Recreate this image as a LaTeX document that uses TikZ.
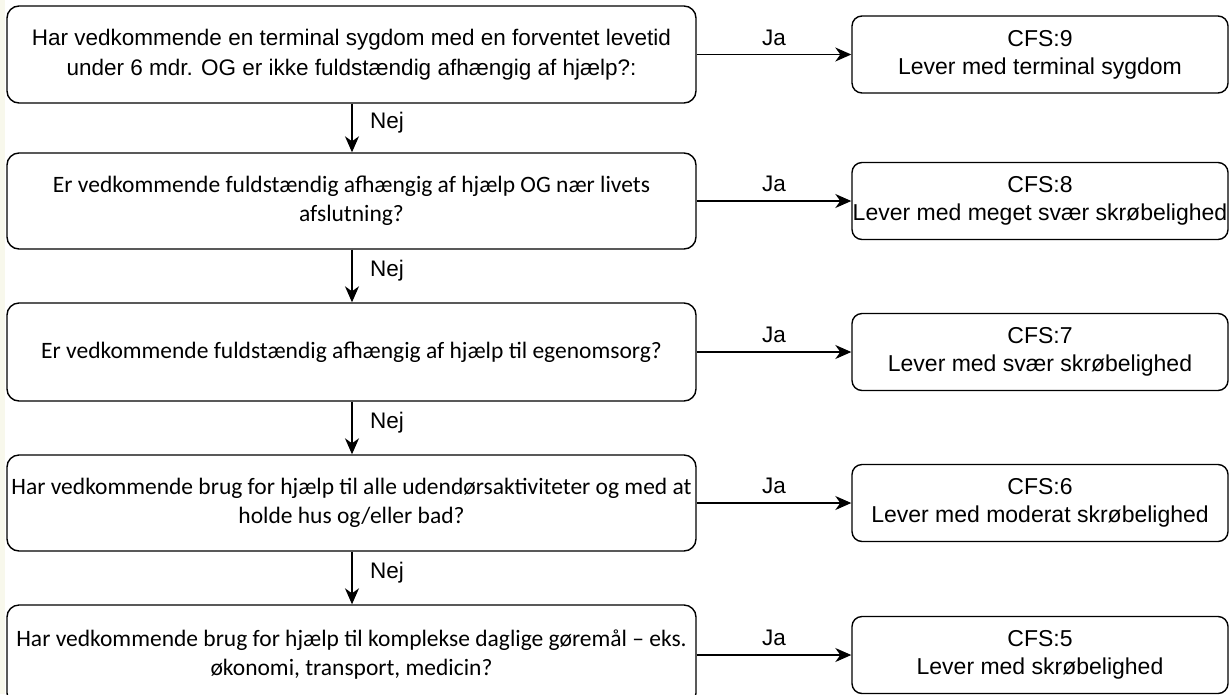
\documentclass[tikz,border=0pt]{standalone}
\usepackage{fontspec}
\usetikzlibrary{arrows.meta}
\newfontfamily\arialf{Liberation Sans}
\newfontfamily\calibf{Carlito}
\definecolor{cream}{HTML}{F8F8EC}
\tikzset{
  qbox/.style={draw, line width=1.4pt, rounded corners=12pt, minimum width=689pt, inner sep=0pt, align=center},
  rbox/.style={draw, line width=1.4pt, rounded corners=10pt, minimum width=376pt, minimum height=77pt, inner sep=0pt, align=center, font=\arialf\fontsize{23}{28}\selectfont},
  arr/.style={line width=1.4pt, -{Stealth[length=16pt,width=14pt,inset=5pt]}},
  jalab/.style={font=\arialf\fontsize{22.5}{26}\selectfont, midway, yshift=17pt},
  nejlab/.style={font=\arialf\fontsize{22.5}{26}\selectfont, midway, anchor=west, xshift=14pt, yshift=5pt},
  qarial/.style={font=\arialf\fontsize{22.5}{30}\selectfont},
  qcalib/.style={font=\calibf\fontsize{23.5}{29}\selectfont}
}
\begin{document}
\begin{tikzpicture}[x=1pt,y=-1pt]
\useasboundingbox (0,0) rectangle (1230,694);
\clip (0,0) rectangle (1230,694);
\fill[white] (0,0) rectangle (1230,694);
\fill[cream] (0,0) rectangle (5,694);

\node[qbox, qarial, minimum height=97pt] (q1) at (351.5,54.5)
  {Har vedkommende en terminal sygdom med en forventet levetid\\under 6 mdr. OG er ikke fuldstændig afhængig af hjælp?:};
\node[qbox, qcalib, minimum height=96pt] (q2) at (351.5,201)
  {Er vedkommende fuldstændig afhængig af hjælp OG nær livets\\afslutning?};
\node[qbox, qcalib, minimum height=98pt] (q3) at (351.5,352)
  {Er vedkommende fuldstændig afhængig af hjælp til egenomsorg?};
\node[qbox, qcalib, minimum height=96pt] (q4) at (351.5,503)
  {Har vedkommende brug for hjælp til alle udendørsaktiviteter og med at\\holde hus og/eller bad?};
\node[qbox, qcalib, minimum height=100pt] (q5) at (351.5,655)
  {Har vedkommende brug for hjælp til komplekse daglige gøremål – eks.\\økonomi, transport, medicin?};

\node[rbox] (r9) at (1040,54.5) {CFS:9\\Lever med terminal sygdom};
\node[rbox] (r8) at (1040,201) {CFS:8\\\makebox[0pt]{Lever med meget svær skrøbelighed}};
\node[rbox] (r7) at (1040,352) {CFS:7\\Lever med svær skrøbelighed};
\node[rbox] (r6) at (1040,503) {CFS:6\\Lever med moderat skrøbelighed};
\node[rbox] (r5) at (1040,655) {CFS:5\\Lever med skrøbelighed};

\draw[arr] (q1) -- node[jalab] {Ja} (r9);
\draw[arr] (q2) -- node[jalab] {Ja} (r8);
\draw[arr] (q3) -- node[jalab] {Ja} (r7);
\draw[arr] (q4) -- node[jalab] {Ja} (r6);
\draw[arr] (q5) -- node[jalab] {Ja} (r5);

\draw[arr] (q1.south -| 352,0) -- node[nejlab] {Nej} (q2.north -| 352,0);
\draw[arr] (q2.south -| 352,0) -- node[nejlab] {Nej} (q3.north -| 352,0);
\draw[arr] (q3.south -| 352,0) -- node[nejlab] {Nej} (q4.north -| 352,0);
\draw[arr] (q4.south -| 352,0) -- node[nejlab] {Nej} (q5.north -| 352,0);
\end{tikzpicture}
\end{document}
